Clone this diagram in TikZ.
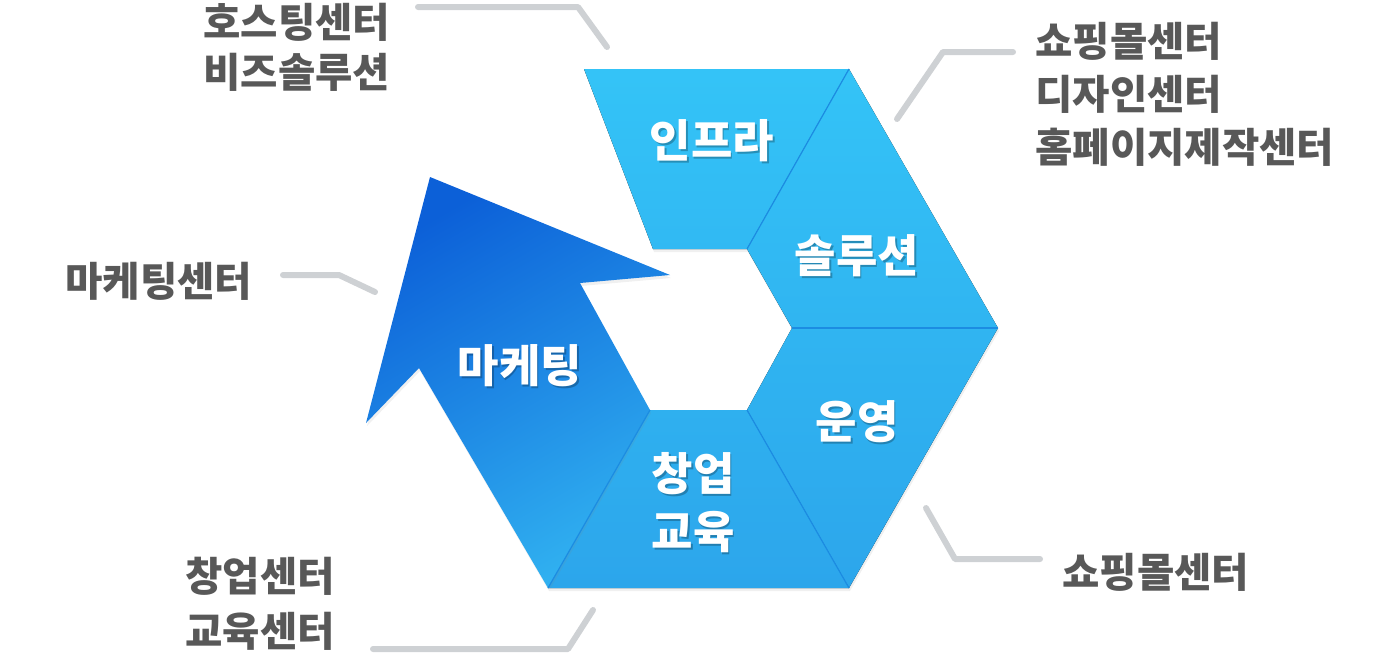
\documentclass[tikz,border=0pt]{standalone}
\usepackage{fontspec}
\setmainfont{Noto Sans CJK KR}[BoldFont={Noto Sans CJK KR Black}]
\usetikzlibrary{shadows}
\definecolor{segtop}{RGB}{52,196,247}
\definecolor{segbot}{RGB}{44,165,235}
\definecolor{arrdark}{RGB}{12,96,216}
\definecolor{arrlight}{RGB}{48,176,240}
\definecolor{segedge}{RGB}{28,140,226}
\definecolor{leadgray}{RGB}{206,209,212}
\definecolor{labgray}{RGB}{88,88,88}
\tikzset{
  seg/.style={drop shadow={opacity=0.12,shadow xshift=0.5pt,shadow yshift=-1.5pt},
    path picture={\fill[top color=segtop, bottom color=segbot] (540,60) rectangle (1010,600);}},
  segline/.style={segedge, line width=0.6pt},
  segtext/.style={text=white, align=center, inner sep=0pt,
    font=\fontsize{22.5}{29}\selectfont\bfseries},
  segshade/.style={segtext, text=black, opacity=0.25},
  leader/.style={leadgray, line width=3pt, line cap=round, line join=round},
  sidetext/.style={text=labgray, align=left, anchor=west, inner sep=0pt,
    font=\fontsize{20.3}{26.5}\selectfont\bfseries}
}

\begin{document}
\begin{tikzpicture}[x=0.5pt,y=-0.5pt]

  \useasboundingbox (0,0) rectangle (1400,660);

  % hexagon points
  \coordinate (o1) at (584,69);
  \coordinate (o2) at (849,69);
  \coordinate (o3) at (998,328);
  \coordinate (o4) at (849,588);
  \coordinate (o5) at (548,588);
  \coordinate (i1) at (653,249);
  \coordinate (i2) at (747,249);
  \coordinate (i3) at (792,328);
  \coordinate (i4) at (747,410);
  \coordinate (i5) at (650,410);

  % segments
  \path[seg] % infra
    (o1) -- (o2) -- (i2) -- (i1) -- cycle;
  \path[seg] % solution
    (o2) -- (o3) -- (i3) -- (i2) -- cycle;
  \path[seg] % operation
    (o3) -- (o4) -- (i4) -- (i3) -- cycle;
  \path[seg] % startup
    (o4) -- (o5) -- (i5) -- (i4) -- cycle;

  % arrow
  \coordinate (tip) at (430,177);
  \path[top color=arrdark, bottom color=arrlight, shading angle=30,
        drop shadow={opacity=0.12,shadow xshift=0.5pt,shadow yshift=-1.5pt}]
    (o5) -- (419,368) -- (366,423) -- (tip) -- (670,275) -- (580,283) -- (i5) -- cycle;

  % dividers
  \draw[segline] (o2) -- (i2);
  \draw[segline] (o3) -- (i3);
  \draw[segline] (o4) -- (i4);
  \draw[segline] (o5) -- (i5);

  % segment labels
  \node[segshade] at (713.5,143) {인프라};
  \node[segtext] (infra) at (712,141) {인프라};
  \node[segshade] at (858.5,258) {솔루션};
  \node[segtext] (solution) at (857,256) {솔루션};
  \node[segshade] at (858.5,424) {운영};
  \node[segtext] (operation) at (857,422) {운영};
  \node[segshade] at (694.5,505) {창업\\교육};
  \node[segtext] (startup) at (693,503) {창업\\교육};
  \node[segshade] at (521.5,368) {마케팅};
  \node[segtext] (marketing) at (520,366) {마케팅};

  % side labels
  \node[sidetext] (hosting) at (203,47) {호스팅센터\\[-1.5pt]비즈솔루션};
  \node[sidetext] (shops) at (1035,94) {쇼핑몰센터\\디자인센터\\홈페이지제작센터};
  \node[sidetext] (mktcenter) at (65,281) {마케팅센터};
  \node[sidetext] (shop) at (1062,572) {쇼핑몰센터};
  \node[sidetext] (edu) at (185,604) {창업센터\\[1pt]교육센터};

  % leader lines
  \coordinate (a1) at (418,7);   \coordinate (a2) at (578,7);   \coordinate (a3) at (607,47);
  \coordinate (b1) at (1013,52); \coordinate (b2) at (943,52);  \coordinate (b3) at (897,119);
  \coordinate (c1) at (283,275); \coordinate (c2) at (339,275); \coordinate (c3) at (375,292);
  \coordinate (d1) at (1040,559);\coordinate (d2) at (955,559); \coordinate (d3) at (926,508);
  \coordinate (e1) at (373,649); \coordinate (e2) at (568,649); \coordinate (e3) at (593,610);
  \draw[leader] (a1) -- (a2) -- (a3);
  \draw[leader] (b1) -- (b2) -- (b3);
  \draw[leader] (c1) -- (c2) -- (c3);
  \draw[leader] (d1) -- (d2) -- (d3);
  \draw[leader] (e1) -- (e2) -- (e3);

\end{tikzpicture}
\end{document}
